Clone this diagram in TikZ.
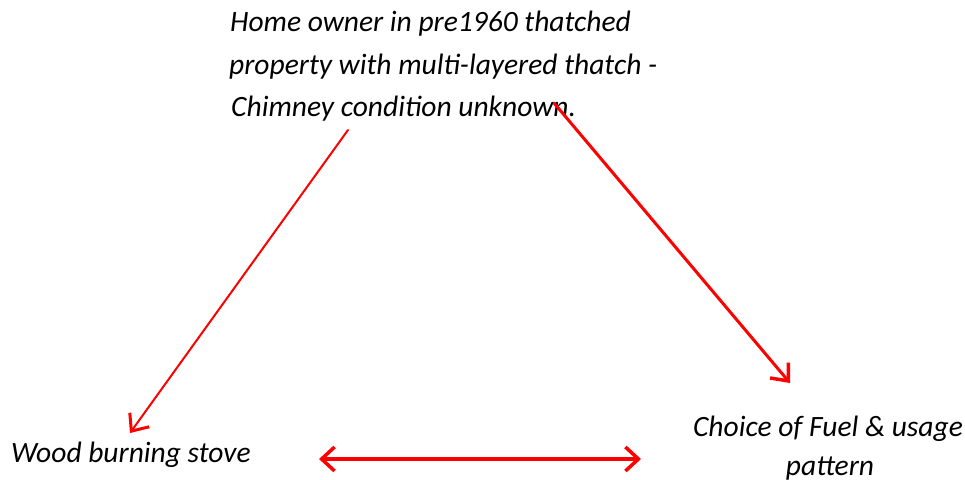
\documentclass[tikz,border=0pt]{standalone}
\usepackage{fontspec}
\setmainfont{Carlito}
\usetikzlibrary{arrows.meta}
\begin{document}
\begin{tikzpicture}[x=1pt,y=-1pt,
  lbl/.style={inner sep=0pt, font=\fontsize{29.5}{42}\selectfont\itshape},
  redarrow/.style={draw=red, line join=round, line cap=round},
]
\useasboundingbox (0,0) rectangle (965,479);
\node[lbl, anchor=base west] (top1) at (230,31) {Home owner in pre1960 thatched};
\node[lbl, anchor=base west] (top2) at (229,74) {property with multi-layered thatch -};
\node[lbl, anchor=base west] (top3) at (231,116) {Chimney condition unknown.};
\node[lbl, anchor=base west] (wood) at (11,462) {Wood burning stove};
\node[lbl, anchor=base] (fuel1) at (828,436) {Choice of Fuel \& usage};
\node[lbl, anchor=base] (fuel2) at (830,475) {pattern};
\coordinate (sL) at (348,130);
\coordinate (eL) at (130,433);
\coordinate (sR) at (554,103);
\coordinate (eR) at (790,383);
\coordinate (bL) at (319,459);
\coordinate (bR) at (641,459);
\draw[redarrow, line width=2pt, -{Straight Barb[length=14pt,width=24pt,line width=3pt]}] (sL) -- (eL);
\draw[redarrow, line width=3pt, -{Straight Barb[length=14pt,width=24pt,line width=3.5pt]}] (sR) -- (eR);
\draw[redarrow, line width=4pt, {Straight Barb[length=13pt,width=24pt,line width=3.5pt]}-{Straight Barb[length=13pt,width=24pt,line width=3.5pt]}] (bL) -- (bR);
\end{tikzpicture}
\end{document}
